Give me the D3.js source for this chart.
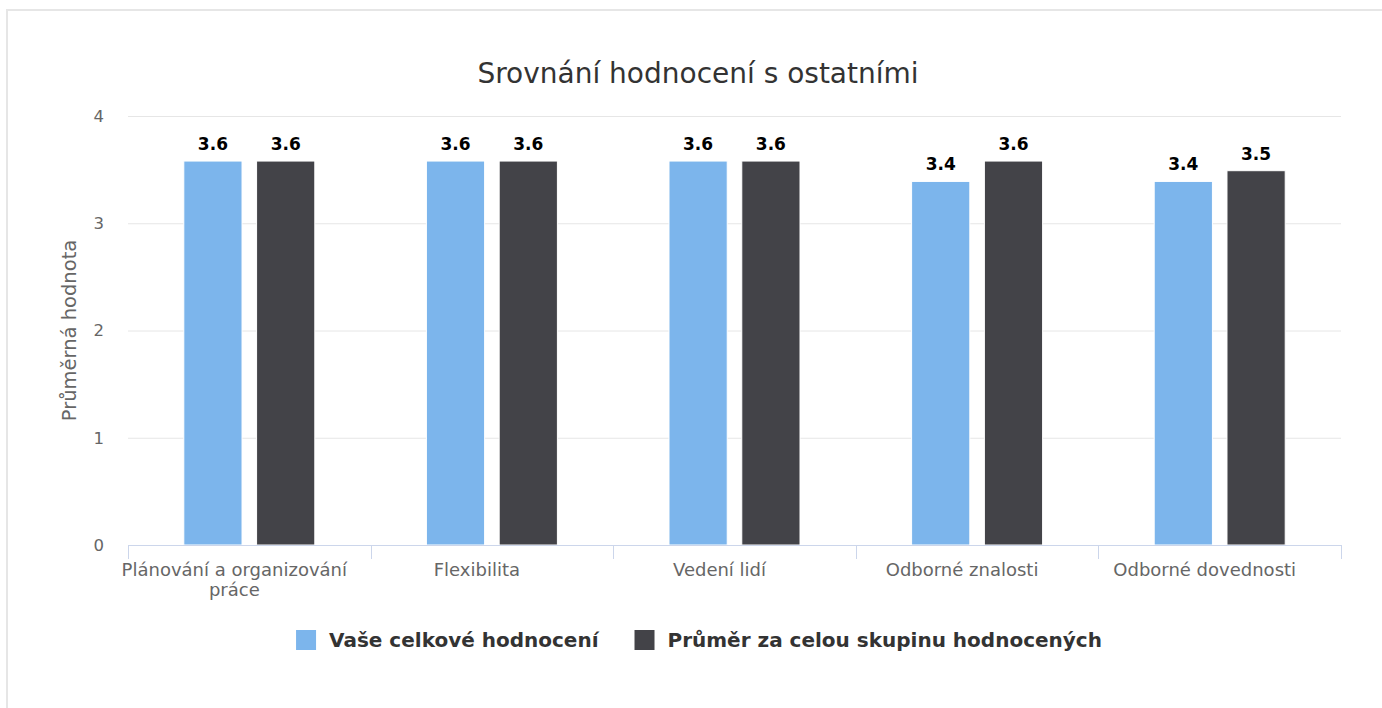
<!DOCTYPE html>
<html>
<head>
<meta charset="utf-8">
<script src="https://cdn.jsdelivr.net/npm/d3@7"></script>
<style>
  html, body { margin: 0; padding: 0; background: #fff; }
  svg { display: block; font-family: "DejaVu Sans", Verdana, sans-serif; }
</style>
</head>
<body>
<svg id="chart" width="1382" height="708"></svg>
<script>
const title = "Srovnání hodnocení s ostatními";
const yAxisTitle = "Průměrná hodnota";
const categories = [
  "Plánování a organizování práce",
  "Flexibilita",
  "Vedení lidí",
  "Odborné znalosti",
  "Odborné dovednosti"
];
const seriesNames = ["Vaše celkové hodnocení", "Průměr za celou skupinu hodnocených"];
const yourScores = [3.58, 3.58, 3.58, 3.39, 3.39];
const groupAverage = [3.58, 3.58, 3.58, 3.58, 3.49];
const seriesColors = ["#7cb5ec", "#434348"];
const yTicks = [0, 1, 2, 3, 4];

const svg = d3.select("#chart");
const W = 1382, H = 708;
const plot = { left: 128, right: 1341, top: 116, bottom: 545 };

svg.append("rect").attr("width", W).attr("height", H).attr("fill", "#fff");
svg.append("rect")
  .attr("x", 7).attr("y", 10).attr("width", W + 20).attr("height", H + 20)
  .attr("fill", "none").attr("stroke", "#e6e6e6").attr("stroke-width", 2);

// Title
svg.append("text")
  .attr("x", 698).attr("y", 83)
  .attr("text-anchor", "middle")
  .attr("font-size", 28).attr("fill", "#333")
  .text(title);

const y = d3.scaleLinear().domain([0, 4]).range([plot.bottom, plot.top]);
const x0 = d3.scaleBand().domain(categories).range([plot.left, plot.right]).padding(0);
const groupPad = 0.2;
const x1 = d3.scaleBand().domain([0, 1])
  .range([x0.bandwidth() * groupPad, x0.bandwidth() * (1 - groupPad)])
  .paddingInner(0.2).paddingOuter(0.1);

// Grid lines
const yAxis = d3.axisLeft(y).tickValues(yTicks).tickSize(-(plot.right - plot.left)).tickPadding(24).tickFormat(d3.format("d"));
const gy = svg.append("g").attr("transform", `translate(${plot.left},0)`).call(yAxis);
gy.select(".domain").remove();
gy.selectAll(".tick line").attr("stroke", "#e6e6e6").attr("stroke-width", 1);
gy.selectAll(".tick text").attr("font-size", 16.5).attr("fill", "#666").attr("font-family", "DejaVu Sans").attr("dy", "0.32em");

// Y axis title
svg.append("text")
  .attr("transform", `translate(76,${(plot.top + plot.bottom) / 2}) rotate(-90)`)
  .attr("text-anchor", "middle")
  .attr("font-size", 19.5).attr("fill", "#666")
  .text(yAxisTitle);

// Bars
const data = categories.map((c, i) => ({ cat: c, vals: [yourScores[i], groupAverage[i]] }));
const groups = svg.append("g").selectAll("g").data(data).join("g")
  .attr("transform", d => `translate(${x0(d.cat)},0)`);
groups.selectAll("rect").data(d => d.vals.map((v, s) => ({ v, s }))).join("rect")
  .attr("x", d => x1(d.s))
  .attr("width", x1.bandwidth())
  .attr("y", d => y(d.v))
  .attr("height", d => y(0) - y(d.v))
  .attr("fill", d => seriesColors[d.s])
  .attr("stroke", "#fff").attr("stroke-width", 1);
groups.selectAll("text").data(d => d.vals.map((v, s) => ({ v, s }))).join("text")
  .attr("x", d => x1(d.s) + x1.bandwidth() / 2)
  .attr("y", d => y(d.v) - 11)
  .attr("text-anchor", "middle")
  .attr("font-size", 17).attr("font-weight", "bold").attr("fill", "#000")
  .attr("stroke", "#fff").attr("stroke-width", 2).attr("paint-order", "stroke")
  .text(d => d3.format(".1f")(d.v));

// X axis
const gx = svg.append("g").attr("transform", `translate(0,${plot.bottom})`);
gx.append("line").attr("x1", plot.left).attr("x2", plot.right).attr("y1", 0.5).attr("y2", 0.5)
  .attr("stroke", "#ccd6eb").attr("stroke-width", 1);
const boundaries = categories.map(c => x0(c)).concat([x0(categories[categories.length - 1]) + x0.bandwidth()]);
gx.selectAll("line.tick").data(boundaries).join("line").attr("class", "tick")
  .attr("x1", d => Math.round(d) + 0.5).attr("x2", d => Math.round(d) + 0.5)
  .attr("y1", 0).attr("y2", 14).attr("stroke", "#ccd6eb").attr("stroke-width", 1);

const labelWidth = x0.bandwidth() - 10;
const labelShift = -15;
gx.selectAll("text.cat").data(categories).join("text").attr("class", "cat")
  .attr("text-anchor", "middle")
  .attr("font-size", 18).attr("fill", "#666")
  .each(function (d) {
    const t = d3.select(this);
    const cx = x0(d) + x0.bandwidth() / 2 + labelShift;
    const words = d.split(" ");
    let lines = [], cur = "";
    const probe = t.append("tspan");
    words.forEach(w => {
      const test = cur ? cur + " " + w : w;
      probe.text(test);
      if (probe.node().getComputedTextLength() > labelWidth && cur) { lines.push(cur); cur = w; }
      else cur = test;
    });
    lines.push(cur);
    probe.remove();
    lines.forEach((l, i) => t.append("tspan").attr("x", cx).attr("y", 31 + i * 20).text(l));
  });

// Legend
const legend = svg.append("g");
const items = legend.selectAll("g").data(seriesNames).join("g");
items.append("rect").attr("width", 20).attr("height", 20).attr("y", 630)
  .attr("fill", (d, i) => seriesColors[i]);
items.append("text").attr("x", 33).attr("y", 647)
  .attr("font-size", 20).attr("font-weight", "bold").attr("fill", "#333")
  .text(d => d);
let xpos = 0;
const widths = [];
items.each(function () {
  const w = 33 + d3.select(this).select("text").node().getComputedTextLength();
  widths.push(w);
});
const gap = 36;
const total = d3.sum(widths) + gap * (widths.length - 1);
xpos = 699 - total / 2;
items.attr("transform", (d, i) => {
  const tx = xpos; xpos += widths[i] + gap; return `translate(${tx},0)`;
});
</script>
</body>
</html>
